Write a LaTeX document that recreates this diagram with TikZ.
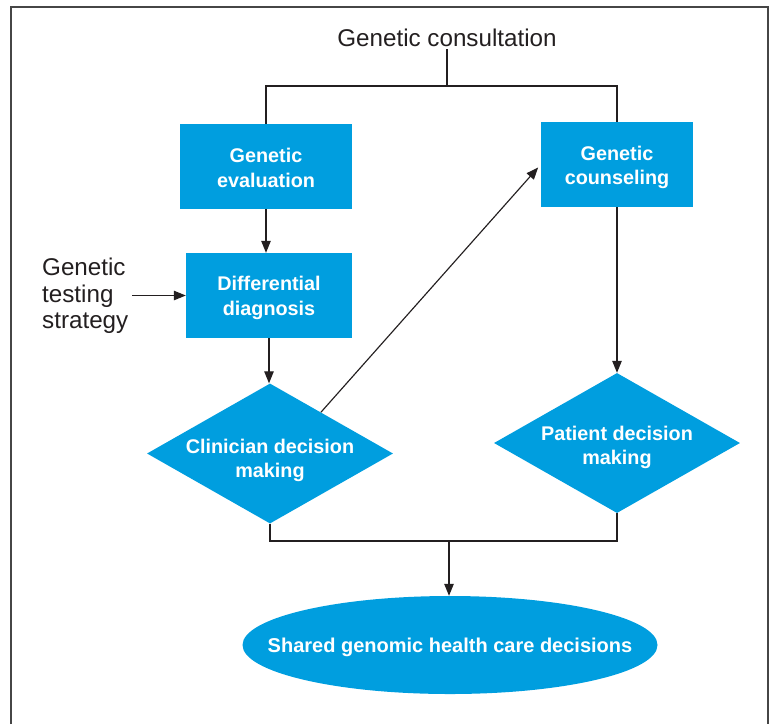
\documentclass[tikz,border=0pt]{standalone}
\usepackage{fontspec}
\setmainfont{Liberation Sans}
\usetikzlibrary{shapes.geometric,arrows.meta}
\definecolor{boxblue}{RGB}{0,158,223}
\definecolor{linek}{RGB}{35,31,32}
\definecolor{framek}{RGB}{70,70,70}
\newcommand{\blbl}[2]{\makebox[0pt]{\raisebox{#1}[0pt][0pt]{\begin{tabular}{@{}c@{}}#2\end{tabular}}}}
\tikzset{
  bluebox/.style={rectangle, fill=boxblue, text=white, align=center,
    font=\fontsize{19.8}{24.5}\selectfont\bfseries, inner sep=0pt},
  bluediamond/.style={diamond, fill=boxblue, text=white, align=center,
    font=\fontsize{19.8}{24.5}\selectfont\bfseries, inner sep=0pt, aspect=1.77,
    minimum width=246pt, minimum height=140pt},
  blueellipse/.style={ellipse, fill=boxblue, text=white, align=center,
    font=\fontsize{20}{24.5}\selectfont\bfseries, inner sep=0pt,
    minimum width=415pt, minimum height=98pt},
  plaintext/.style={font=\fontsize{24.2}{26.5}\selectfont, text=linek},
  conn/.style={draw=linek, line width=1.15pt},
  arr/.style={conn, -{Triangle[length=12pt,width=9.5pt]}}
}
\begin{document}
\begin{tikzpicture}[x=1pt,y=-1pt]
\useasboundingbox (0,0) rectangle (773,724);
\draw[framek, line width=1.4pt] (11,724) -- (11,7) -- (768,7) -- (768,724);

\node[plaintext, inner sep=2pt] (cons) at (447,38) {Genetic consultation};
\coordinate (split) at (447,86);

\node[bluebox, minimum width=172pt, minimum height=85pt] (eval) at (266,166.5) {\blbl{-9pt}{Genetic\\evaluation}};
\node[bluebox, minimum width=152pt, minimum height=85pt] (couns) at (617,164.5) {\blbl{-8.5pt}{Genetic\\counseling}};
\node[bluebox, minimum width=166pt, minimum height=85pt] (diff) at (269,295.5) {\blbl{-8pt}{Differential\\diagnosis}};
\node[plaintext, align=left, anchor=west, inner sep=0pt] (strat) at (42,296) {Genetic\\testing\\strategy};

\node[bluediamond] (clin) at (270,453.5) {\blbl{-12.5pt}{Clinician decision\\making}};
\node[bluediamond] (pat) at (617,443) {\blbl{-10pt}{Patient decision\\making}};

\coordinate (merge) at (449,541);
\node[blueellipse] (shared) at (450,645) {\makebox[0pt]{\raisebox{-7pt}[0pt][0pt]{Shared genomic health care decisions}}};

\draw[conn] (cons.south) -- (split);
\draw[conn] (eval.north) |- (split) -| (couns.north);
\draw[arr] (eval.south) -- (eval.south |- diff.north);
\draw[arr] ([xshift=4pt]strat.east |- diff.west) -- (diff.west);
\draw[arr] (diff.south) -- (diff.south |- clin.north);
\draw[arr, shorten >=4pt] (clin.39) -- (couns.west);
\draw[arr] (couns.south) -- (pat.north);
\draw[conn] (clin.south) |- (merge) -| (pat.south);
\draw[arr] (merge) -- (merge |- shared.north);
\end{tikzpicture}
\end{document}
